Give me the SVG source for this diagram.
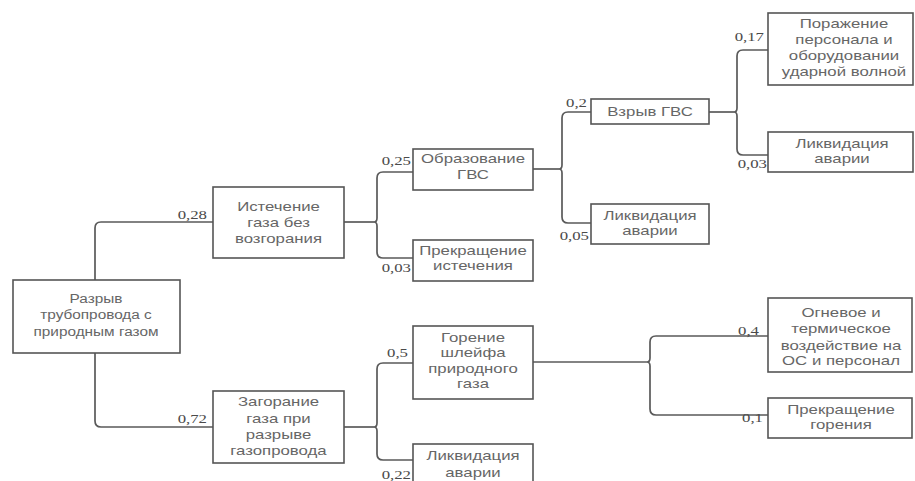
<svg xmlns="http://www.w3.org/2000/svg" width="915" height="481" viewBox="0 0 915 481">
<style>
  .box { fill: #ffffff; stroke: #555555; stroke-width: 1.6; }
  .t { font-family: "Liberation Sans", Arial, sans-serif; font-size: 12px; fill: #666666; text-anchor: middle; }
  .lbl { font-family: "Liberation Serif", "Times New Roman", serif; font-size: 12px; fill: #4a4a4a; text-anchor: end; }
  .c { fill: none; stroke: #5a5a5a; stroke-width: 1.7; }
</style>
<rect width="915" height="481" fill="#ffffff"/>

<g id="connectors">
  <path class="c" d="M95,280 V228 Q95,222 101,222 H213"/>
  <path class="c" d="M95,353 V421 Q95,427 101,427 H213"/>
  <path class="c" d="M344,222 H374"/>
  <path class="c" d="M413,172 H383 Q377,172 377,178 V218 Q377,222 374,222 Q377,222 377,226 V252 Q377,258 383,258 H413"/>
  <path class="c" d="M533,169 H559"/>
  <path class="c" d="M591,112 H568 Q562,112 562,118 V165 Q562,169 559,169 Q562,169 562,173 V217 Q562,223 568,223 H591"/>
  <path class="c" d="M709,112 H734"/>
  <path class="c" d="M768,50 H743 Q737,50 737,56 V108 Q737,112 734,112 Q737,112 737,116 V149 Q737,155 743,155 H768"/>
  <path class="c" d="M344,427 H374"/>
  <path class="c" d="M413,363 H383 Q377,363 377,369 V423 Q377,427 374,427 Q377,427 377,431 V454 Q377,460 383,460 H413"/>
  <path class="c" d="M533,362 H647"/>
  <path class="c" d="M768,336 H656 Q650,336 650,342 V358 Q650,362 647,362 Q650,362 650,366 V409 Q650,415 656,415 H768"/>
</g>

<g id="labels">
  <text class="lbl" transform="translate(207 219) scale(1.4 1)">0,28</text>
  <text class="lbl" transform="translate(207 423) scale(1.4 1)">0,72</text>
  <text class="lbl" transform="translate(411 165) scale(1.4 1)">0,25</text>
  <text class="lbl" transform="translate(411 272) scale(1.4 1)">0,03</text>
  <text class="lbl" transform="translate(587 107) scale(1.4 1)">0,2</text>
  <text class="lbl" transform="translate(589 240) scale(1.4 1)">0,05</text>
  <text class="lbl" transform="translate(764 41) scale(1.4 1)">0,17</text>
  <text class="lbl" transform="translate(767 168) scale(1.4 1)">0,03</text>
  <text class="lbl" transform="translate(408 357) scale(1.4 1)">0,5</text>
  <text class="lbl" transform="translate(411 479) scale(1.4 1)">0,22</text>
  <text class="lbl" transform="translate(759 335) scale(1.4 1)">0,4</text>
  <text class="lbl" transform="translate(763 422) scale(1.4 1)">0,1</text>
</g>

<g id="n-root">
  <rect class="box" x="13" y="280" width="167" height="73"/>
  <text class="t" transform="translate(96 0) scale(1.28 1)"><tspan x="0" y="303">Разрыв</tspan><tspan x="0" y="319">трубопровода с</tspan><tspan x="0" y="336">природным газом</tspan></text>
</g>
<g id="n-istechenie">
  <rect class="box" x="213" y="187" width="131" height="71"/>
  <text class="t" transform="translate(278.5 0) scale(1.4 1)"><tspan x="0" y="211">Истечение</tspan><tspan x="0" y="227">газа без</tspan><tspan x="0" y="243">возгорания</tspan></text>
</g>
<g id="n-zagoranie">
  <rect class="box" x="213" y="391" width="131" height="72"/>
  <text class="t" transform="translate(278.5 0) scale(1.4 1)"><tspan x="0" y="406">Загорание</tspan><tspan x="0" y="423">газа  при</tspan><tspan x="0" y="439">разрыве</tspan><tspan x="0" y="455">газопровода</tspan></text>
</g>
<g id="n-obrazovanie">
  <rect class="box" x="413" y="149" width="120" height="41"/>
  <text class="t" transform="translate(473 0) scale(1.4 1)"><tspan x="0" y="163">Образование</tspan><tspan x="0" y="179">ГВС</tspan></text>
</g>
<g id="n-prekr-istech">
  <rect class="box" x="413" y="240" width="120" height="41"/>
  <text class="t" transform="translate(473 0) scale(1.4 1)"><tspan x="0" y="255">Прекращение</tspan><tspan x="0" y="270">истечения</tspan></text>
</g>
<g id="n-vzryv">
  <rect class="box" x="591" y="99" width="118" height="25"/>
  <text class="t" transform="translate(650 0) scale(1.4 1)"><tspan x="0" y="116">Взрыв ГВС</tspan></text>
</g>
<g id="n-likv1">
  <rect class="box" x="591" y="204" width="118" height="40"/>
  <text class="t" transform="translate(650 0) scale(1.4 1)"><tspan x="0" y="220">Ликвидация</tspan><tspan x="0" y="235">аварии</tspan></text>
</g>
<g id="n-porazhenie">
  <rect class="box" x="768" y="13" width="145" height="72"/>
  <text class="t" transform="translate(844 0) scale(1.4 1)"><tspan x="0" y="28">Поражение</tspan><tspan x="0" y="44">персонала и</tspan><tspan x="0" y="60">оборудовании</tspan><tspan x="0" y="76">ударной волной</tspan></text>
</g>
<g id="n-likv2">
  <rect class="box" x="768" y="132" width="145" height="40"/>
  <text class="t" transform="translate(842 0) scale(1.4 1)"><tspan x="0" y="148">Ликвидация</tspan><tspan x="0" y="163">аварии</tspan></text>
</g>
<g id="n-gorenie">
  <rect class="box" x="413" y="326" width="120" height="73"/>
  <text class="t" transform="translate(473 0) scale(1.4 1)"><tspan x="0" y="342">Горение</tspan><tspan x="0" y="357">шлейфа</tspan><tspan x="0" y="373">природного</tspan><tspan x="0" y="388">газа</tspan></text>
</g>
<g id="n-likv3">
  <rect class="box" x="413" y="444" width="120" height="50"/>
  <text class="t" transform="translate(473 0) scale(1.4 1)"><tspan x="0" y="460">Ликвидация</tspan><tspan x="0" y="477">аварии</tspan></text>
</g>
<g id="n-ognevoe">
  <rect class="box" x="768" y="298" width="144" height="74"/>
  <text class="t" transform="translate(841 0) scale(1.4 1)"><tspan x="0" y="317">Огневое и</tspan><tspan x="0" y="333">термическое</tspan><tspan x="0" y="350">воздействие на</tspan><tspan x="0" y="365">ОС и персонал</tspan></text>
</g>
<g id="n-prekr-gor">
  <rect class="box" x="768" y="398" width="144" height="40"/>
  <text class="t" transform="translate(841 0) scale(1.4 1)"><tspan x="0" y="414">Прекращение</tspan><tspan x="0" y="429">горения</tspan></text>
</g>
</svg>
